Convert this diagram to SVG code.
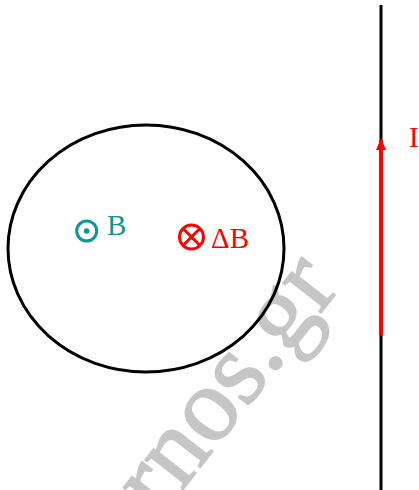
<svg xmlns="http://www.w3.org/2000/svg" width="419" height="490" viewBox="0 0 419 490">
<defs>
<style>
.lbl{font-family:"Liberation Serif","Times New Roman",serif;font-size:29px}
.teal{fill:#0f9595}
.red{fill:#ff0000}
</style>
<marker id="arr" markerWidth="12" markerHeight="18" refX="10" refY="5" orient="auto" markerUnits="userSpaceOnUse" viewBox="0 0 12 10">
<path d="M0,0 L12,5 L0,10 Z" fill="#ff0000"/>
</marker>
</defs>
<rect width="419" height="490" fill="#ffffff"/>
<text id="watermark" x="0" y="0" transform="translate(160,519) rotate(-52)" font-family="Liberation Serif,serif" font-size="105" fill="#c6c6c6" stroke="#c6c6c6" stroke-width="1.6">rnos.gr</text>
<g id="loop">
<ellipse cx="146" cy="248.5" rx="138" ry="123.5" fill="none" stroke="#000" stroke-width="3"/>
</g>
<g id="wire">
<line x1="381" y1="5" x2="381" y2="490" stroke="#000" stroke-width="3"/>
</g>
<g id="connectors">
<line x1="381" y1="335" x2="381" y2="140" stroke="#ff0000" stroke-width="4" marker-end="url(#arr)"/>
</g>
<g id="B">
<circle cx="86.7" cy="231" r="10" fill="none" stroke="#0f9595" stroke-width="3"/>
<circle cx="86.7" cy="231" r="2.8" fill="#0f9595"/>
<text class="lbl teal" x="107" y="235">B</text>
</g>
<g id="dB">
<circle cx="191.5" cy="237" r="12" fill="none" stroke="#ff0000" stroke-width="3"/>
<path d="M183,228.5 L200,245.5 M200,228.5 L183,245.5" stroke="#ff0000" stroke-width="3"/>
<text class="lbl red" x="211" y="247.5">ΔB</text>
</g>
<g id="I">
<text class="lbl red" x="409" y="147">I</text>
</g>
</svg>
